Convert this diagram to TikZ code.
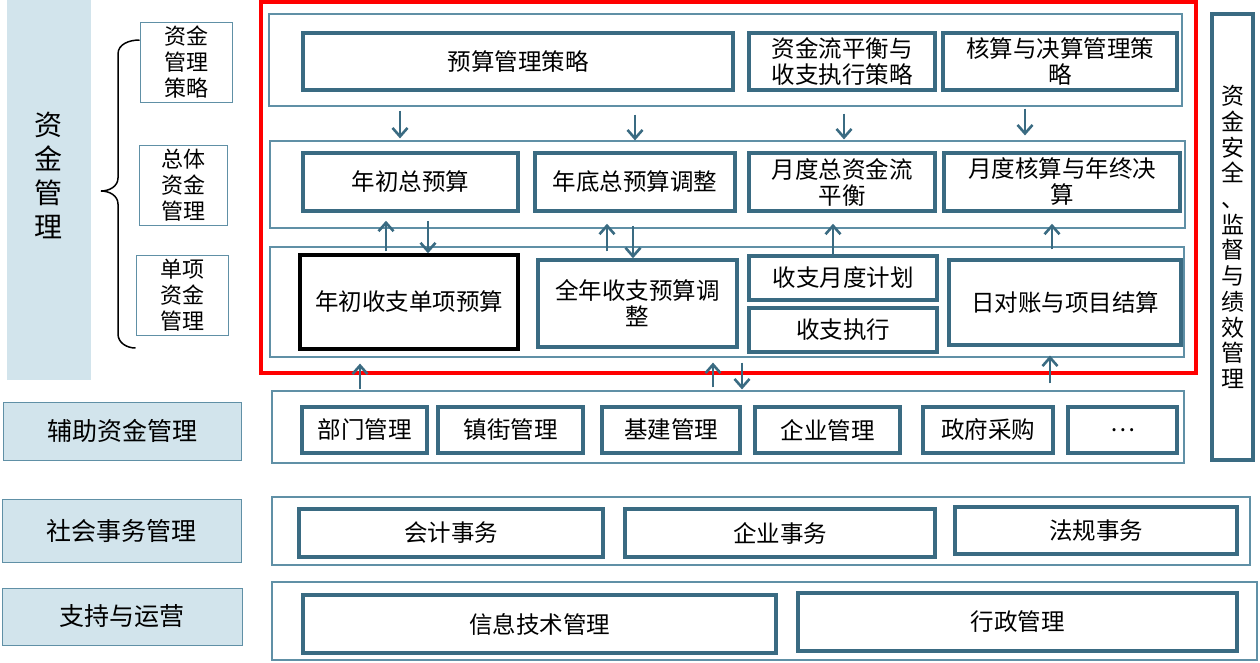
\documentclass[tikz,border=0pt]{standalone}
\usepackage{fontspec}
\setmainfont{Noto Sans CJK SC}
\usetikzlibrary{arrows.meta}
\definecolor{bord}{HTML}{3A6B82}
\definecolor{thinc}{HTML}{6090A6}
\definecolor{lblue}{HTML}{D2E4EC}
\newcommand\mybox[7]{\node[#1, minimum width={#4-#2}, minimum height={#5-#3}] (#6) at ({(#2+#4)/2},{(#3+#5)/2}) {#7};}
\tikzset{
  panel/.style={draw=thinc, line width=1.2pt, fill=white, inner sep=0pt},
  tbox/.style={draw=bord, line width=3.5pt, fill=white, align=center, inner sep=0pt, font=\fontsize{23.5}{26}\selectfont},
  kbox/.style={tbox, draw=black},
  sbox/.style={draw=thinc, line width=1pt, fill=white, align=center, inner sep=0pt, font=\fontsize{22}{26}\selectfont},
  lab/.style={draw=thinc, line width=1pt, fill=lblue, align=center, inner sep=0pt, font=\fontsize{25}{30}\selectfont},
  lfill/.style={fill=lblue, draw=none, inner sep=0pt},
  redbox/.style={draw=red, line width=3.5pt, inner sep=0pt},
  arr/.style={draw=bord, line width=2.8pt, -{Straight Barb[length=8.5pt,width=15pt,line width=2.6pt]}},
}
\begin{document}
\begin{tikzpicture}[x=1pt,y=-1pt]
\useasboundingbox (0,0) rectangle (1260,662);
% left column
\mybox{lfill}{7}{0}{91}{380}{lbig}{}
\node[font=\fontsize{28}{34}\selectfont, align=center, inner sep=0pt] (lbigt) at (48,175) {资\\金\\管\\理};
\mybox{sbox}{140}{22}{232}{102}{s1}{资金\\管理\\策略}
\mybox{sbox}{139}{145}{227}{225}{s2}{总体\\资金\\管理}
\mybox{sbox}{136}{255}{228}{335}{s3}{单项\\资金\\管理}
\draw[line width=1.5pt] (s1.west |- 0,40) to[out=180,in=90] (118,54) -- (118,178)
  to[out=-90,in=0] (101,191) to[out=0,in=90] (118,204) -- (118,334)
  to[out=-90,in=180] (s3.west |- 0,348);
\mybox{lab}{3}{402}{241}{460}{laux}{辅助资金管理}
\mybox{lab}{2}{499}{241}{562}{lsoc}{社会事务管理}
\mybox{lab}{2}{588}{242}{645}{lsup}{支持与运营}
% red frame
\mybox{redbox}{261}{2}{1196}{373}{red}{}
% panels
\mybox{panel}{269}{14}{1182}{106}{p1}{}
\mybox{panel}{270}{141}{1185}{228}{p2}{}
\mybox{panel}{270}{247}{1184}{357}{p3}{}
\mybox{panel}{272}{391}{1184}{463}{pa}{}
\mybox{panel}{272}{497}{1250}{565}{ps}{}
\mybox{panel}{272}{582}{1257}{660}{pt}{}
% row 1
\mybox{tbox}{303}{33}{733}{90}{b11}{预算管理策略}
\mybox{tbox}{749}{33}{935}{90}{b12}{资金流平衡与\\收支执行策略}
\mybox{tbox}{943}{33}{1177}{90}{b13}{核算与决算管理策\\略}
% row 2
\mybox{tbox}{303}{153}{518}{211}{b21}{年初总预算}
\mybox{tbox}{535}{153}{735}{211}{b22}{年底总预算调整}
\mybox{tbox}{749}{153}{935}{211}{b23}{月度总资金流\\平衡}
\mybox{tbox}{944}{153}{1180}{211}{b24}{月度核算与年终决\\算}
% row 3
\mybox{kbox}{300}{255}{518}{349}{b31}{年初收支单项预算}
\mybox{tbox}{538}{260}{737}{347}{b32}{全年收支预算调\\整}
\mybox{tbox}{749}{256}{937}{300}{b33}{收支月度计划}
\mybox{tbox}{749}{308}{937}{352}{b34}{收支执行}
\mybox{tbox}{949}{260}{1181}{345}{b35}{日对账与项目结算}
% aux row
\mybox{tbox}{302}{407}{427}{453}{a1}{部门管理}
\mybox{tbox}{438}{407}{583}{453}{a2}{镇街管理}
\mybox{tbox}{602}{407}{740}{453}{a3}{基建管理}
\mybox{tbox}{755}{407}{900}{453}{a4}{企业管理}
\mybox{tbox}{923}{407}{1053}{453}{a5}{政府采购}
\mybox{tbox}{1068}{407}{1177}{453}{a6}{…}
% social row
\mybox{tbox}{299}{509}{603}{557}{c1}{会计事务}
\mybox{tbox}{625}{509}{935}{557}{c2}{企业事务}
\mybox{tbox}{955}{507}{1237}{554}{c3}{法规事务}
% support row
\mybox{tbox}{303}{595}{776}{653}{d1}{信息技术管理}
\mybox{tbox}{798}{593}{1237}{651}{d2}{行政管理}
% right column
\mybox{tbox}{1212}{14}{1253}{460}{rc}{}
\node[font=\fontsize{23}{25.7}\selectfont, align=center, inner sep=0pt] (rct) at (rc.center) {资\\金\\安\\全\\、\\监\\督\\与\\绩\\效\\管\\理};
% arrows row1 -> row2
\draw[arr] ([yshift=-4pt]p1.south -| 400,0) -- ([yshift=2pt]p2.north -| 400,0);
\draw[arr] ([yshift=-8pt]p1.south -| 635,0) -- (p2.north -| 635,0);
\draw[arr] ([yshift=-7pt]p1.south -| 844,0) -- ([yshift=1pt]p2.north -| 844,0);
\draw[arr] ([yshift=-2pt]p1.south -| 1025,0) -- ([yshift=5pt]p2.north -| 1025,0);
% row2 <-> row3
\draw[arr] ([yshift=2pt]b31.north -| 386,0) -- ([yshift=-8pt]b21.south -| 386,0);
\draw[arr] ([yshift=-8pt]b21.south -| 428,0) -- (b31.north -| 428,0);
\draw[arr] ([yshift=-5pt]p3.north -| 607,0) -- ([yshift=-11pt]b22.south -| 607,0);
\draw[arr] ([yshift=-13pt]b22.south -| 633,0) -- (b32.north -| 633,0);
\draw[arr] (b33.north -| 833,0) -- ([yshift=-11pt]b23.south -| 833,0);
\draw[arr] ([yshift=-3pt]p3.north -| 1052,0) -- ([yshift=-11pt]b24.south -| 1052,0);
% row3 <-> aux
\draw[arr] ([yshift=1pt]pa.north -| 360,0) -- ([yshift=-6pt]p3.south -| 360,0);
\draw[arr] ([yshift=3pt]pa.north -| 713,0) -- ([yshift=-5pt]p3.south -| 713,0);
\draw[arr] ([yshift=-5pt]p3.south -| 742,0) -- ([yshift=1pt]pa.north -| 742,0);
\draw[arr] ([yshift=7pt]pa.north -| 1050,0) -- ([yshift=2pt]p3.south -| 1050,0);
\end{tikzpicture}
\end{document}
